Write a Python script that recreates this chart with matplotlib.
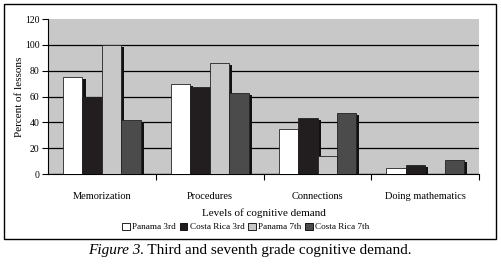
import numpy as np
import matplotlib
matplotlib.use("Agg")
import matplotlib.pyplot as plt
from matplotlib.patches import Rectangle, Patch

categories = ["Memorization", "Procedures", "Connections", "Doing mathematics"]
series_names = ["Panama 3rd", "Costa Rica 3rd", "Panama 7th", "Costa Rica 7th"]
panama_3rd = [75, 70, 35, 5]
costa_rica_3rd = [60, 67, 43, 7]
panama_7th = [100, 86, 14, 0]
costa_rica_7th = [42, 63, 47, 11]
yticks = [0, 20, 40, 60, 80, 100, 120]

colors = ["#ffffff", "#221e1f", "#c8c8c8", "#4b4b4b"]
all_values = [panama_3rd, costa_rica_3rd, panama_7th, costa_rica_7th]

plt.rcParams["font.family"] = ["Liberation Serif", "DejaVu Serif"]

fig = plt.figure(figsize=(5.02, 2.73), dpi=100)

# outer frame around the chart
fig.patches.append(Rectangle((0.008, 0.1245), 0.980, 0.8605, transform=fig.transFigure,
                             fill=False, edgecolor="black", linewidth=1.0, zorder=0))

ax = fig.add_axes([0.0956, 0.3626, 0.859, 0.5678])
ax.set_facecolor("#c8c8c8")

x = np.arange(len(categories))
width = 0.18
shift_x = 0.028
shift_y = 1.5
for i, (vals, c) in enumerate(zip(all_values, colors)):
    pos = x + (i - 1.5) * width
    shadow = np.clip(np.array(vals) - shift_y, 0, None)
    ax.bar(pos + shift_x, shadow, width, color="#111111", linewidth=0, zorder=3 + 2 * i)
    ax.bar(pos, vals, width, color=c, edgecolor="#222222", linewidth=0.6, zorder=4 + 2 * i)

ax.set_xlim(-0.5, 3.5)
ax.set_ylim(0, 120)
ax.set_yticks(yticks)
ax.yaxis.grid(True, color="black", linewidth=0.9)
ax.set_axisbelow(True)
ax.get_ygridlines()[-1].set_visible(False)
for s in ["top", "right"]:
    ax.spines[s].set_visible(False)
ax.spines["left"].set_linewidth(0.8)
ax.spines["bottom"].set_linewidth(0.8)

ax.set_xticks(x)
ax.set_xticklabels(categories, fontsize=7.5)
ax.set_xticks(np.append(x[:-1] + 0.5, 3.5), minor=True)
ax.tick_params(axis="x", which="major", length=0, pad=13)
ax.tick_params(axis="x", which="minor", length=4, width=0.8)
ax.tick_params(axis="y", length=4, width=0.8, labelsize=7, pad=2)

ax.set_ylabel("Percent of lessons", fontsize=8, labelpad=1)
ax.set_xlabel("Levels of cognitive demand", fontsize=8, labelpad=5)

handles = [Patch(facecolor=c, edgecolor="black", linewidth=0.6) for c in colors]
fig.legend(handles, series_names, loc="center", bbox_to_anchor=(0.49, 1 - 227 / 273),
           ncol=4, frameon=False, fontsize=6.6, handlelength=0.8, handleheight=0.8,
           handletextpad=0.3, columnspacing=0.4)

t1 = fig.text(0.175, 1 - 257 / 273, "Figure 3", fontsize=11, style="italic", va="bottom")
ax.annotate(". Third and seventh grade cognitive demand.", xy=(1, 0), xycoords=t1,
            fontsize=11, va="bottom", ha="left", annotation_clip=False)

fig.savefig("out.png", dpi=100)
